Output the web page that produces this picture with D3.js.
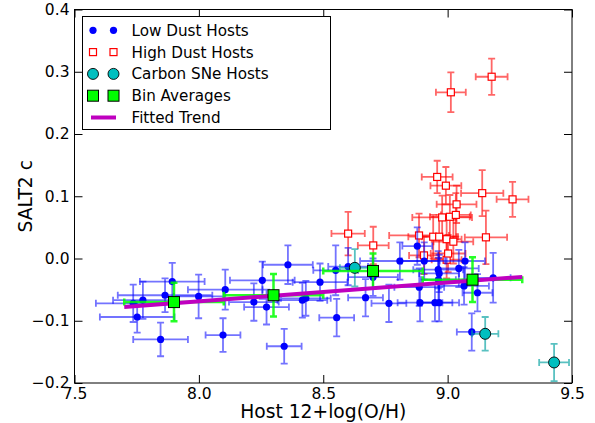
<!DOCTYPE html>
<html>
<head>
<meta charset="utf-8">
<script src="https://cdn.jsdelivr.net/npm/d3@7"></script>
<style>
  body { margin: 0; background: #fff; }
  svg, svg text { font-family: "DejaVu Sans", sans-serif; }
</style>
</head>
<body>
<div id="chart"></div>
<script>
/* ================= Data ================= */

// low dust hosts
const lowX    = [7.736, 7.752, 7.775, 7.864, 7.893, 7.846, 7.999, 8.106, 8.097, 8.221, 8.255, 8.272, 8.358, 8.343, 8.416, 8.430, 8.487, 8.554, 8.550, 8.600, 8.670, 8.700, 8.764, 8.808, 8.878, 8.886, 8.889, 8.906, 8.949, 8.962, 8.966, 8.963, 8.966, 9.045, 9.066, 9.070, 9.097, 9.120, 9.183];
const lowY    = [-0.072, -0.094, -0.067, -0.059, -0.037, -0.130, -0.061, -0.050, -0.123, -0.070, -0.035, -0.078, -0.010, -0.141, -0.067, -0.064, -0.038, -0.095, -0.019, -0.013, -0.063, -0.030, -0.072, -0.004, 0.020, -0.046, -0.071, -0.004, -0.071, -0.018, -0.024, -0.034, -0.071, -0.016, -0.044, -0.004, -0.118, -0.055, -0.031];
const lowXerr = [0.15, 0.15, 0.12, 0.19, 0.13, 0.11, 0.10, 0.15, 0.07, 0.10, 0.13, 0.09, 0.10, 0.07, 0.10, 0.10, 0.11, 0.07, 0.09, 0.08, 0.07, 0.10, 0.07, 0.16, 0.06, 0.10, 0.09, 0.09, 0.07, 0.10, 0.08, 0.07, 0.08, 0.08, 0.10, 0.08, 0.06, 0.06, 0.07];
const lowYerr = [0.030, 0.025, 0.030, 0.027, 0.030, 0.027, 0.035, 0.032, 0.027, 0.030, 0.030, 0.028, 0.031, 0.028, 0.028, 0.028, 0.030, 0.030, 0.040, 0.030, 0.030, 0.030, 0.030, 0.030, 0.030, 0.030, 0.030, 0.030, 0.030, 0.030, 0.030, 0.035, 0.030, 0.030, 0.030, 0.030, 0.030, 0.030, 0.040];

// high dust hosts
const highX    = [8.600, 8.701, 8.885, 8.905, 8.942, 8.958, 8.966, 8.978, 8.993, 8.996, 8.996, 9.002, 9.009, 9.013, 9.023, 9.033, 9.036, 9.139, 9.154, 9.177, 9.261];
const highY    = [0.040, 0.021, 0.037, 0.005, 0.035, 0.131, 0.035, 0.066, 0.117, 0.031, -0.002, 0.008, 0.067, 0.267, 0.027, 0.070, 0.087, 0.105, 0.034, 0.292, 0.095];
const highXerr = [0.067, 0.062, 0.12, 0.06, 0.10, 0.062, 0.07, 0.12, 0.062, 0.06, 0.06, 0.07, 0.08, 0.06, 0.08, 0.06, 0.08, 0.085, 0.085, 0.064, 0.064];
const highYerr = [0.035, 0.030, 0.035, 0.030, 0.035, 0.026, 0.035, 0.035, 0.030, 0.035, 0.030, 0.030, 0.035, 0.032, 0.035, 0.035, 0.030, 0.037, 0.043, 0.029, 0.028];

// carbon SNe hosts
const carbonX    = [8.627, 9.151, 9.428];
const carbonY    = [-0.015, -0.121, -0.167];
const carbonXerr = [0.06, 0.053, 0.06];
const carbonYerr = [0.030, 0.027, 0.030];

// bin averages
const binX    = [7.9, 8.3, 8.7, 9.1];
const binY    = [-0.070, -0.059, -0.020, -0.034];
const binXerr = [0.2, 0.2, 0.2, 0.2];
const binYerr = [0.031, 0.034, 0.028, 0.036];

// fitted trend
const trendX = [7.7, 9.3];
const trendY = [-0.078, -0.0296];

const xTicks = [7.5, 8.0, 8.5, 9.0, 9.5];
const yTicks = [-0.2, -0.1, 0.0, 0.1, 0.2, 0.3, 0.4];
const legendLabels = ["Low Dust Hosts", "High Dust Hosts", "Carbon SNe Hosts", "Bin Averages", "Fitted Trend"];

/* ================= Layout ================= */

const W = 595, H = 423;
const margin = { top: 9.5, right: 23, bottom: 40, left: 74.5 };
const width = W - margin.left - margin.right;
const height = H - margin.top - margin.bottom;
const FONT = "DejaVu Sans, sans-serif";

const svg = d3.select("#chart").append("svg")
  .attr("width", W)
  .attr("height", H);

const g = svg.append("g")
  .attr("transform", `translate(${margin.left},${margin.top})`);

const x = d3.scaleLinear().domain([7.5, 9.5]).range([0, width]);
const y = d3.scaleLinear().domain([-0.2, 0.4]).range([height, 0]);

const fmt = d => d3.format(".1f")(d).replace("-", "\u2212");

/* ===== error bars helper ===== */

function errorBars(xs, ys, xe, ye, color, opacity, lw) {
  const grp = g.append("g")
    .attr("stroke", color)
    .attr("stroke-opacity", opacity)
    .attr("stroke-width", lw)
    .attr("fill", "none");
  const cap = 3.5;
  xs.forEach((xv, i) => {
    const cx = x(xv), cy = y(ys[i]);
    const x0 = x(xv - xe[i]), x1 = x(xv + xe[i]);
    const y0 = y(ys[i] - ye[i]), y1 = y(ys[i] + ye[i]);
    const p = d3.path();
    p.moveTo(x0, cy); p.lineTo(x1, cy);
    p.moveTo(cx, y0); p.lineTo(cx, y1);
    p.moveTo(x0, cy - cap); p.lineTo(x0, cy + cap);
    p.moveTo(x1, cy - cap); p.lineTo(x1, cy + cap);
    p.moveTo(cx - cap, y0); p.lineTo(cx + cap, y0);
    p.moveTo(cx - cap, y1); p.lineTo(cx + cap, y1);
    grp.append("path").attr("d", p.toString());
  });
}

/* ===== high dust ===== */

errorBars(highX, highY, highXerr, highYerr, "#ff0000", 0.6, 1.8);
g.append("g").selectAll("rect")
  .data(highX)
  .enter().append("rect")
  .attr("x", (d, i) => x(d) - 3.5)
  .attr("y", (d, i) => y(highY[i]) - 3.5)
  .attr("width", 7).attr("height", 7)
  .attr("fill", "#fff")
  .attr("stroke", "#ff0000")
  .attr("stroke-width", 1.2);

/* ===== low dust ===== */

errorBars(lowX, lowY, lowXerr, lowYerr, "#0000ff", 0.55, 1.8);
g.append("g").selectAll("circle")
  .data(lowX)
  .enter().append("circle")
  .attr("cx", d => x(d))
  .attr("cy", (d, i) => y(lowY[i]))
  .attr("r", 3.6)
  .attr("fill", "#0000ff");

/* ===== carbon ===== */

errorBars(carbonX, carbonY, carbonXerr, carbonYerr, "#00a0a0", 0.65, 1.8);
g.append("g").selectAll("circle")
  .data(carbonX)
  .enter().append("circle")
  .attr("cx", d => x(d))
  .attr("cy", (d, i) => y(carbonY[i]))
  .attr("r", 5.5)
  .attr("fill", "#00bfbf")
  .attr("stroke", "#000")
  .attr("stroke-width", 0.9);

/* ===== bins + trend ===== */

errorBars(binX, binY, binXerr, binYerr, "#00ff00", 0.85, 2.5);

const line = d3.line()
  .x(d => x(d[0]))
  .y(d => y(d[1]));

g.append("path")
  .datum(trendX.map((d, i) => [d, trendY[i]]))
  .attr("d", line)
  .attr("stroke", "#bf00bf")
  .attr("stroke-width", 4)
  .attr("fill", "none");

g.append("g").selectAll("rect")
  .data(binX)
  .enter().append("rect")
  .attr("x", d => x(d) - 5.5)
  .attr("y", (d, i) => y(binY[i]) - 5.5)
  .attr("width", 11).attr("height", 11)
  .attr("fill", "#00ff00")
  .attr("stroke", "#000")
  .attr("stroke-width", 1);

/* ===== Axes ===== */

const tickLen = 8;
const axStyle = sel => {
  sel.attr("font-family", FONT).attr("font-size", 15.5);
  sel.select(".domain").remove();
  sel.selectAll("line").attr("stroke", "#000").attr("stroke-width", 1);
  sel.selectAll("text").attr("fill", "#000");
};

g.append("g")
  .attr("transform", `translate(0,${height})`)
  .call(d3.axisBottom(x).tickValues(xTicks).tickFormat(fmt).tickSizeInner(-tickLen).tickPadding(5))
  .call(axStyle);

g.append("g")
  .call(d3.axisTop(x).tickValues(xTicks).tickFormat("").tickSizeInner(-tickLen))
  .call(axStyle);

g.append("g")
  .call(d3.axisLeft(y).tickValues(yTicks).tickFormat(fmt).tickSizeInner(-tickLen).tickPadding(5))
  .call(axStyle);

g.append("g")
  .attr("transform", `translate(${width},0)`)
  .call(d3.axisRight(y).tickValues(yTicks).tickFormat("").tickSizeInner(-tickLen))
  .call(axStyle);

g.append("rect")
  .attr("width", width).attr("height", height)
  .attr("fill", "none").attr("stroke", "#000").attr("stroke-width", 1);

svg.append("text")
  .attr("x", margin.left + width / 2)
  .attr("y", 418)
  .attr("text-anchor", "middle")
  .attr("font-family", FONT)
  .attr("font-size", "18.7px")
  .text("Host 12+log(O/H)");

svg.append("text")
  .attr("transform", `translate(32,${margin.top + height / 2}) rotate(-90)`)
  .attr("text-anchor", "middle")
  .attr("font-family", FONT)
  .attr("font-size", "18.7px")
  .text("SALT2 c");

/* ===== Legend ===== */

const leg = svg.append("g").attr("transform", "translate(82.5,16.5)");
leg.append("rect")
  .attr("width", 248).attr("height", 113)
  .attr("fill", "#fff").attr("stroke", "#000").attr("stroke-width", 1);

const rowY = i => 13.8 + i * 21.8;
const mx = [10.5, 31];

legendLabels.forEach((lab, i) => {
  const row = leg.append("g").attr("transform", `translate(0,${rowY(i)})`);
  if (i === 0) {
    mx.forEach(m => row.append("circle").attr("cx", m).attr("r", 3.6).attr("fill", "#0000ff"));
  } else if (i === 1) {
    mx.forEach(m => row.append("rect").attr("x", m - 3.5).attr("y", -3.5).attr("width", 7).attr("height", 7)
      .attr("fill", "#fff").attr("stroke", "#ff0000").attr("stroke-width", 1.2));
  } else if (i === 2) {
    mx.forEach(m => row.append("circle").attr("cx", m).attr("r", 5.5).attr("fill", "#00bfbf")
      .attr("stroke", "#000").attr("stroke-width", 0.9));
  } else if (i === 3) {
    mx.forEach(m => row.append("rect").attr("x", m - 5.5).attr("y", -5.5).attr("width", 11).attr("height", 11)
      .attr("fill", "#00ff00").attr("stroke", "#000").attr("stroke-width", 1));
  } else {
    row.append("line").attr("x1", 8.5).attr("x2", 33.5)
      .attr("stroke", "#bf00bf").attr("stroke-width", 4);
  }
  row.append("text")
    .attr("x", 49)
    .attr("dy", "0.36em")
    .attr("font-family", FONT)
    .attr("font-size", "15.2px")
    .text(lab);
});
</script>
</body>
</html>
